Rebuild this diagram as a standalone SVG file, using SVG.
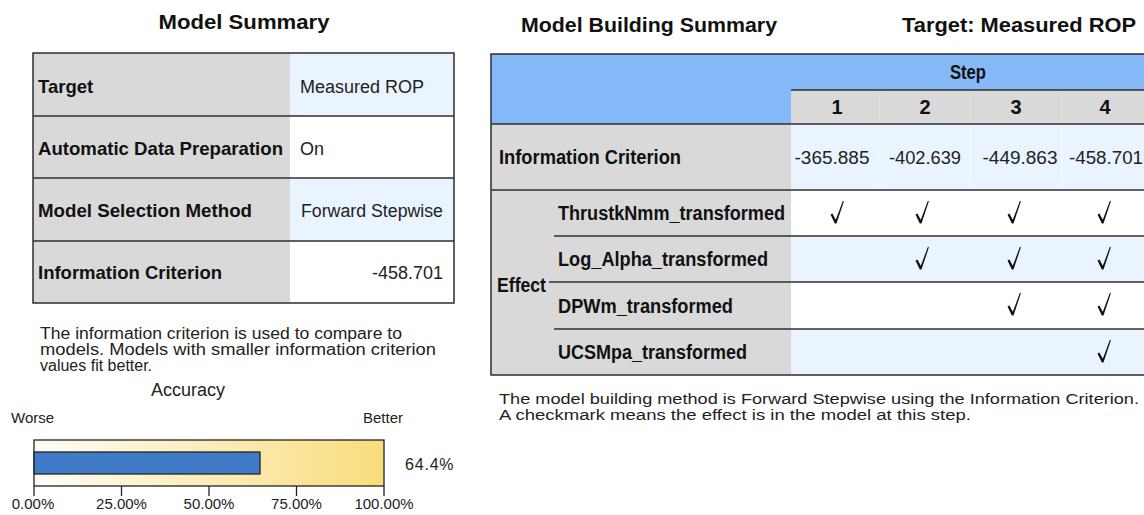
<svg xmlns="http://www.w3.org/2000/svg" width="1144" height="515" viewBox="0 0 1144 515">
  <defs>
    <style>
      text { font-family: "Liberation Sans", Arial, sans-serif; fill: #111; }
      .title { font-size: 21px; font-weight: bold; }
      .lbl { font-size: 18.5px; font-weight: bold; }
      .val { font-size: 18px; fill: #222; }
      .note { font-size: 16px; fill: #222; }
      .axis { font-size: 15px; fill: #222; }
      .rlbl { font-size: 20px; font-weight: bold; }
      .rval { font-size: 18px; fill: #222; }
      .gray { fill: #D9D9D9; }
      .lite { fill: #EAF4FE; }
      .white { fill: #FFFFFF; }
      .hdr { fill: #86B9F7; }
      .rule { stroke: #2E2E2E; stroke-width: 1.5; fill: none; }
      .faint { stroke: #E4E4E4; stroke-width: 1; }
      .faintb { stroke: #F6FAFF; stroke-width: 1; }
    </style>
    <linearGradient id="accFill" x1="0" y1="0" x2="1" y2="0">
      <stop offset="0" stop-color="#FFFDF6"/>
      <stop offset="1" stop-color="#F9DC7C"/>
    </linearGradient>
    <!-- inclusion tick, centred on its origin -->
    <path id="tick" d="M-6.5,0.5 L-4.6,-0.4 L-1.2,5.8 L5.9,-13.2 L6.9,-12.7 L-0.5,9.6 L-2.2,9.6 Z" fill="#111"/>
  </defs>

  <rect width="1144" height="515" fill="#FFFFFF"/>

  <!-- Model Summary panel -->
  <g id="model-summary">
    <text class="title" x="244" y="29" text-anchor="middle" textLength="171" lengthAdjust="spacingAndGlyphs">Model Summary</text>
    <rect class="gray" x="33" y="53" width="257" height="250"/>
    <rect class="lite" x="290" y="53" width="164" height="63"/>
    <rect class="white" x="290" y="116" width="164" height="62"/>
    <rect class="lite" x="290" y="178" width="164" height="63"/>
    <rect class="white" x="290" y="241" width="164" height="62"/>
    <line class="rule" x1="33" y1="116" x2="454" y2="116"/>
    <line class="rule" x1="33" y1="178" x2="454" y2="178"/>
    <line class="rule" x1="33" y1="241" x2="454" y2="241"/>
    <rect class="rule" x="33" y="53" width="421" height="250"/>

    <text class="lbl" x="38" y="93">Target</text>
    <text class="lbl" x="38" y="155" textLength="245" lengthAdjust="spacingAndGlyphs">Automatic Data Preparation</text>
    <text class="lbl" x="38" y="217" textLength="214" lengthAdjust="spacingAndGlyphs">Model Selection Method</text>
    <text class="lbl" x="38" y="279" textLength="184" lengthAdjust="spacingAndGlyphs">Information Criterion</text>

    <text class="val" x="300" y="93">Measured ROP</text>
    <text class="val" x="300" y="155">On</text>
    <text class="val" x="301" y="217" textLength="142" lengthAdjust="spacingAndGlyphs">Forward Stepwise</text>
    <text class="val" x="443" y="279" text-anchor="end">-458.701</text>

    <text class="note" x="40" y="339" textLength="362" lengthAdjust="spacingAndGlyphs">The information criterion is used to compare to</text>
    <text class="note" x="40" y="355" textLength="396" lengthAdjust="spacingAndGlyphs">models. Models with smaller information criterion</text>
    <text class="note" x="40" y="371">values fit better.</text>
  </g>

  <!-- Accuracy gauge -->
  <g id="accuracy">
    <text class="val" x="188" y="396" text-anchor="middle">Accuracy</text>
    <text class="axis" x="11" y="423">Worse</text>
    <text class="axis" x="403" y="423" text-anchor="end">Better</text>
    <rect x="34" y="440" width="350" height="46" fill="url(#accFill)" stroke="#222" stroke-width="1.3"/>
    <rect x="34" y="452" width="226" height="22" fill="#3F7BC6" stroke="#222" stroke-width="1.3"/>
    <g stroke="#222" stroke-width="1.3">
      <line x1="34" y1="486" x2="34" y2="496"/>
      <line x1="121.5" y1="486" x2="121.5" y2="496"/>
      <line x1="209" y1="486" x2="209" y2="496"/>
      <line x1="296.5" y1="486" x2="296.5" y2="496"/>
      <line x1="384" y1="486" x2="384" y2="496"/>
    </g>
    <text class="axis" x="33" y="509" text-anchor="middle">0.00%</text>
    <text class="axis" x="121.5" y="509" text-anchor="middle">25.00%</text>
    <text class="axis" x="209" y="509" text-anchor="middle">50.00%</text>
    <text class="axis" x="296.5" y="509" text-anchor="middle">75.00%</text>
    <text class="axis" x="384" y="509" text-anchor="middle">100.00%</text>
    <text class="val" x="405" y="470" style="font-size:16px; letter-spacing:0.8px">64.4%</text>
  </g>

  <!-- Model Building Summary panel -->
  <g id="model-building-summary">
    <text class="title" x="521" y="32" textLength="256" lengthAdjust="spacingAndGlyphs">Model Building Summary</text>
    <text class="title" x="1136" y="32" text-anchor="end" textLength="234" lengthAdjust="spacingAndGlyphs">Target: Measured ROP</text>

    <!-- header band -->
    <rect class="hdr" x="491" y="54" width="660" height="70"/>
    <rect class="gray" x="791" y="90" width="360" height="34"/>
    <!-- information criterion and effect rows -->
    <rect class="gray" x="491" y="124" width="300" height="251"/>
    <rect class="lite" x="791" y="124" width="360" height="66"/>
    <rect class="white" x="791" y="190" width="360" height="46"/>
    <rect class="lite" x="791" y="236" width="360" height="46"/>
    <rect class="white" x="791" y="282" width="360" height="47"/>
    <rect class="lite" x="791" y="329" width="360" height="46"/>

    <g class="faint">
      <line x1="880" y1="91" x2="880" y2="123"/>
      <line x1="970" y1="91" x2="970" y2="123"/>
      <line x1="1062" y1="91" x2="1062" y2="123"/>
    </g>
    <g class="faintb">
      <line x1="880" y1="125" x2="880" y2="189"/>
      <line x1="970" y1="125" x2="970" y2="189"/>
      <line x1="1062" y1="125" x2="1062" y2="189"/>
    </g>

    <line class="rule" x1="791" y1="90" x2="1144" y2="90"/>
    <line class="rule" x1="491" y1="124" x2="1144" y2="124"/>
    <line class="rule" x1="491" y1="190" x2="1144" y2="190"/>
    <line class="rule" x1="554" y1="236" x2="1144" y2="236"/>
    <line class="rule" x1="549" y1="282" x2="1144" y2="282"/>
    <line class="rule" x1="554" y1="329" x2="1144" y2="329"/>
    <path class="rule" d="M1150,54 H491 V375 H1150"/>

    <text class="rlbl" x="968" y="79" text-anchor="middle" textLength="36" lengthAdjust="spacingAndGlyphs">Step</text>
    <text class="rlbl" x="837" y="114" text-anchor="middle">1</text>
    <text class="rlbl" x="925" y="114" text-anchor="middle">2</text>
    <text class="rlbl" x="1016" y="114" text-anchor="middle">3</text>
    <text class="rlbl" x="1105" y="114" text-anchor="middle">4</text>

    <text class="rlbl" x="499" y="164" textLength="182" lengthAdjust="spacingAndGlyphs">Information Criterion</text>
    <text class="rval" x="832" y="164" text-anchor="middle" textLength="75" lengthAdjust="spacingAndGlyphs">-365.885</text>
    <text class="rval" x="925" y="164" text-anchor="middle" textLength="72" lengthAdjust="spacingAndGlyphs">-402.639</text>
    <text class="rval" x="1020" y="164" text-anchor="middle" textLength="75" lengthAdjust="spacingAndGlyphs">-449.863</text>
    <text class="rval" x="1106" y="164" text-anchor="middle" textLength="74" lengthAdjust="spacingAndGlyphs">-458.701</text>

    <text class="rlbl" x="497" y="292" textLength="49" lengthAdjust="spacingAndGlyphs">Effect</text>
    <text class="rlbl" x="558" y="220" textLength="227" lengthAdjust="spacingAndGlyphs">ThrustkNmm_transformed</text>
    <text class="rlbl" x="558" y="266" textLength="210" lengthAdjust="spacingAndGlyphs">Log_Alpha_transformed</text>
    <text class="rlbl" x="558" y="313" textLength="175" lengthAdjust="spacingAndGlyphs">DPWm_transformed</text>
    <text class="rlbl" x="558" y="359" textLength="189" lengthAdjust="spacingAndGlyphs">UCSMpa_transformed</text>

    <!-- step inclusion marks -->
    <use href="#tick" x="837" y="214"/>
    <use href="#tick" x="922" y="214"/>
    <use href="#tick" x="1014" y="214"/>
    <use href="#tick" x="1104" y="214"/>
    <use href="#tick" x="922" y="260"/>
    <use href="#tick" x="1014" y="260"/>
    <use href="#tick" x="1104" y="260"/>
    <use href="#tick" x="1014" y="306"/>
    <use href="#tick" x="1104" y="306"/>
    <use href="#tick" x="1104" y="353"/>

    <text class="note" x="499" y="404" style="font-size:15.5px" textLength="640" lengthAdjust="spacingAndGlyphs">The model building method is Forward Stepwise using the Information Criterion.</text>
    <text class="note" x="499" y="420" style="font-size:15.5px" textLength="472" lengthAdjust="spacingAndGlyphs">A checkmark means the effect is in the model at this step.</text>
  </g>
</svg>
